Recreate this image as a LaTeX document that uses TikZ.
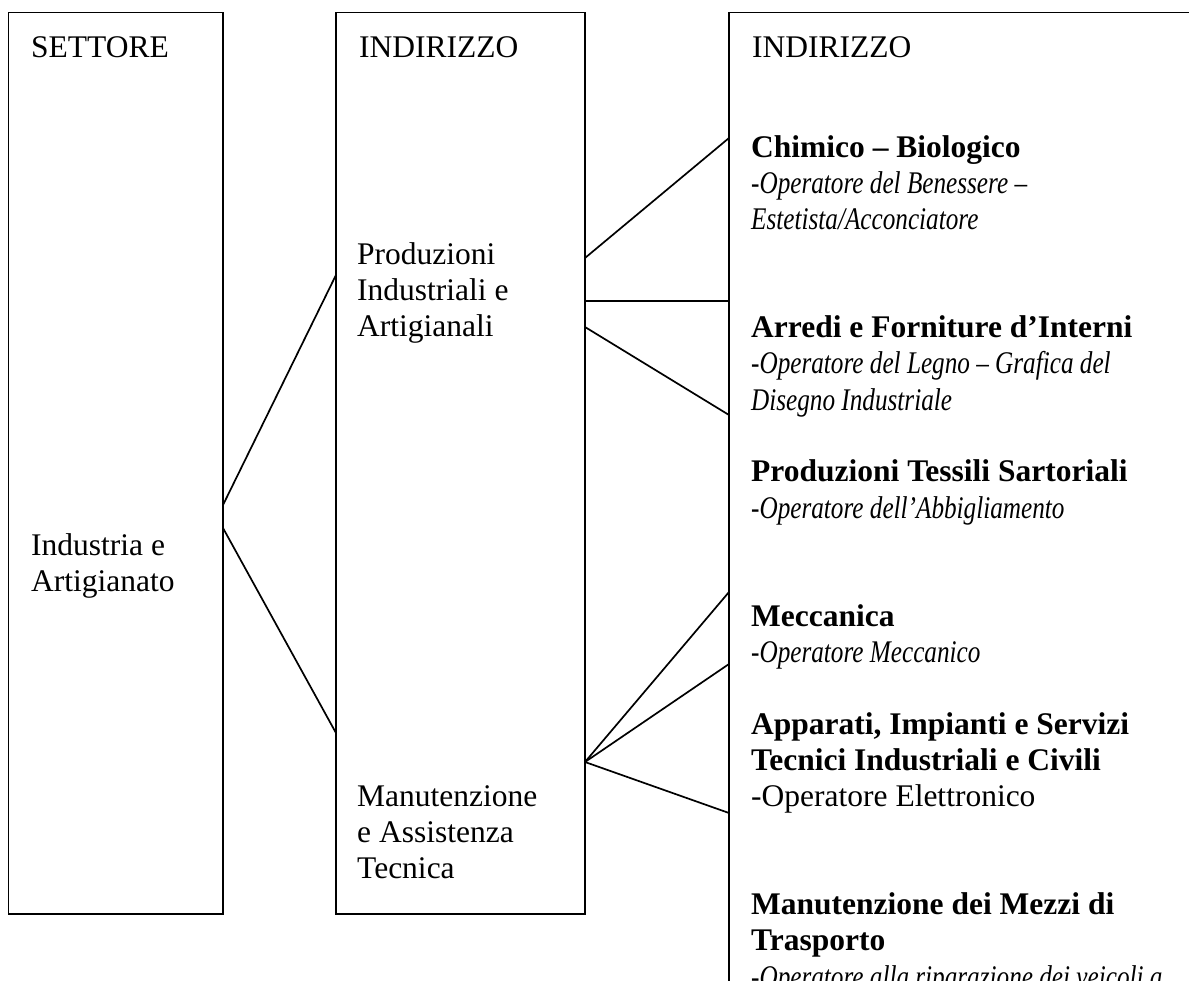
\documentclass[tikz,border=0pt]{standalone}
\usepackage{fontspec}
\setmainfont{Liberation Serif}
\newfontfamily\narrowit{Liberation Serif}[FakeStretch=0.8]
\tikzset{
  x=1pt, y=1pt,
  box/.style={draw, line width=1.7pt, rectangle, inner sep=0pt, outer sep=0pt},
  conn/.style={line width=1.7pt},
  txt/.style={anchor=base west, inner sep=0pt, font=\fontsize{31.5}{36}\selectfont},
  btxt/.style={anchor=base west, inner sep=0pt, font=\fontsize{31.5}{36}\selectfont\bfseries},
  itxt/.style={anchor=base west, inner sep=0pt, font=\fontsize{31.5}{36}\selectfont\narrowit\itshape},
}
\begin{document}
\begin{tikzpicture}
\path[use as bounding box] (0,0) rectangle (1189,-981);
\clip (0,0) rectangle (1189,-981);
% boxes
\node[box, minimum width=214.5pt, minimum height=901.5pt] (b1) at (115.75,-463.25) {};
\node[box, minimum width=249pt, minimum height=901.5pt] (b2) at (460.5,-463.25) {};
\node[box, minimum width=531pt, minimum height=997.5pt] (b3) at (994.5,-511.25) {};
% box texts
\node[txt] (h1) at (31,-58) {SETTORE};
\node[txt] (h2) at (359,-58) {INDIRIZZO};
\node[txt] (h3) at (752,-58) {INDIRIZZO};
\node[txt] (s1) at (31,-555) {Industria e};
\node[txt] (s2) at (31,-591) {Artigianato};
\node[txt] (p1) at (357,-265) {Produzioni};
\node[txt] (p2) at (357,-301) {Industriali e};
\node[txt] (p3) at (357,-337) {Artigianali};
\node[txt] (m1) at (357,-806) {Manutenzione};
\node[txt] (m2) at (357,-842) {e Assistenza};
\node[txt] (m3) at (357,-878) {Tecnica};
% right column
\node[btxt] (r0) at (751,-158) {Chimico – Biologico};
\node[itxt] (r1) at (751,-194) {-Operatore del Benessere –};
\node[itxt] (r2) at (751,-230) {Estetista/Acconciatore};
\node[btxt] (r5) at (751,-338) {Arredi e Forniture d’Interni};
\node[itxt] (r6) at (751,-374) {-Operatore del Legno – Grafica del};
\node[itxt] (r7) at (751,-410) {Disegno Industriale};
\node[btxt] (r9) at (751,-482) {Produzioni Tessili Sartoriali};
\node[itxt] (r10) at (751,-518) {-Operatore dell’Abbigliamento};
\node[btxt] (r13) at (751,-626) {Meccanica};
\node[itxt] (r14) at (751,-662) {-Operatore Meccanico};
\node[btxt] (r16) at (751,-734) {Apparati, Impianti e Servizi};
\node[btxt] (r17) at (751,-770) {Tecnici Industriali e Civili};
\node[txt] (r18) at (751,-806) {-Operatore Elettronico};
\node[btxt] (r21) at (751,-914) {Manutenzione dei Mezzi di};
\node[btxt] (r22) at (751,-950) {Trasporto};
\node[itxt] (r23) at (751,-987) {-Operatore alla riparazione dei veicoli a};
% connector end points
\coordinate (a1) at (223,-505);
\coordinate (a2) at (223,-528);
\coordinate (a3) at (336,-275);
\coordinate (a4) at (336,-733);
\coordinate (c1) at (585,-258);
\coordinate (c2) at (585,-301);
\coordinate (c3) at (585,-327);
\coordinate (c4) at (585,-762);
\coordinate (d1) at (729,-138);
\coordinate (d2) at (729,-301);
\coordinate (d3) at (729,-415);
\coordinate (d4) at (729,-592);
\coordinate (d5) at (729,-664);
\coordinate (d6) at (729,-813);
% connectors
\draw[conn] (a1) -- (a3);
\draw[conn] (a2) -- (a4);
\draw[conn] (c1) -- (d1);
\draw[conn] (c2) -- (d2);
\draw[conn] (c3) -- (d3);
\draw[conn] (c4) -- (d4);
\draw[conn] (c4) -- (d5);
\draw[conn] (c4) -- (d6);
\end{tikzpicture}
\end{document}
